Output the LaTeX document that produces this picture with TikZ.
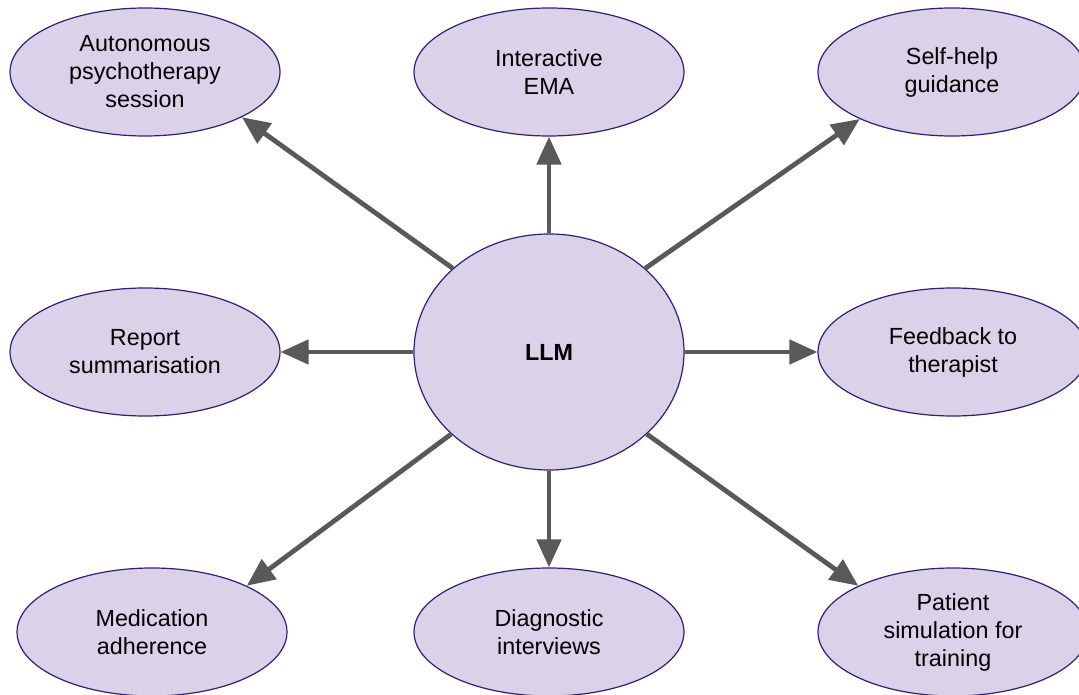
\documentclass[tikz,border=0pt]{standalone}
\usepackage{fontspec}
\setmainfont{Liberation Sans}
\usetikzlibrary{shapes.geometric,arrows.meta}
\definecolor{fillp}{HTML}{D9D2E9}
\definecolor{linep}{HTML}{351C75}
\definecolor{arr}{HTML}{595959}
\begin{document}
\begin{tikzpicture}[x=0.75pt,y=-0.75pt,
  bub/.style={ellipse,draw=linep,fill=fillp,line width=0.9pt,inner sep=0pt,
    minimum width=202.5pt,minimum height=96pt,align=center,
    font=\fontsize{17.5}{21}\selectfont},
  conn/.style={draw=arr,line width=3.6pt,-{Triangle[length=21pt,width=18pt]}}]
\useasboundingbox (0,0) rectangle (1079,695);
\node[bub,minimum width=202.5pt,minimum height=177pt,font=\fontsize{17.5}{21}\selectfont\bfseries] (llm) at (549,352) {LLM};
\node[bub] (auto) at (145,72) {Autonomous\\psychotherapy\\session};
\node[bub] (ema) at (549,72) {Interactive\\EMA};
\node[bub,minimum width=201pt] (self) at (952,72) {Self-help\\guidance};
\node[bub] (rep) at (145,352) {Report\\summarisation};
\node[bub] (fb) at (953,352) {Feedback to\\therapist};
\node[bub] (med) at (152,632) {Medication\\adherence};
\node[bub] (diag) at (549,632) {Diagnostic\\interviews};
\node[bub] (pat) at (953,632) {Patient\\simulation for\\training};
\draw[conn] (llm.north) -- (ema.south);
\draw[conn] (llm.139) -- (auto.-25);
\draw[conn] (llm.41) -- (self.207);
\draw[conn] (llm.west) -- (rep.east);
\draw[conn] (llm.east) -- (fb.west);
\draw[conn] (llm.220) -- (med.26);
\draw[conn] (llm.-40) -- (pat.154);
\draw[conn] (llm.south) -- (diag.north);
\end{tikzpicture}
\end{document}
